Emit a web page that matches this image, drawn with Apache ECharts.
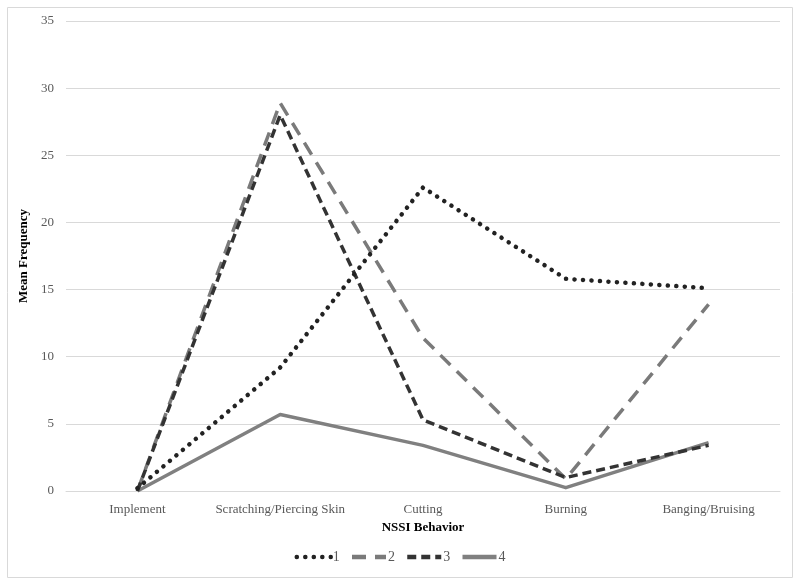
<!DOCTYPE html>
<html><head><meta charset="utf-8">
<script src="https://cdn.jsdelivr.net/npm/echarts@6/dist/echarts.min.js"></script>
<style>html,body{margin:0;padding:0;background:#fff}#c{width:800px;height:585px}</style>
</head><body><div id="c"></div>
<script>
const categories = ['Implement', 'Scratching/Piercing Skin', 'Cutting', 'Burning', 'Banging/Bruising'];
const series1 = [0.2, 9.2, 22.6, 15.8, 15.1];
const series2 = [0, 28.9, 11.4, 0.9, 13.9];
const series3 = [0, 28.0, 5.3, 1.0, 3.4];
const series4 = [0, 5.7, 3.4, 0.25, 3.6];
const seriesNames = ['1', '2', '3', '4'];
const yTicks = [0, 5, 10, 15, 20, 25, 30, 35];

const font = '"Liberation Serif", "Times New Roman", serif';
const chart = echarts.init(document.getElementById('c'), null, {renderer: 'canvas'});
function mk(name, data, color, type, width, cap) {
  return {
    name, type: 'line', data, symbol: 'none', z: 2,
    lineStyle: {color, width, type, cap: cap || 'butt', join: 'round'},
    itemStyle: {color}
  };
}
chart.setOption({
  animation: false,
  graphic: [{type: 'rect', shape: {x: 7.5, y: 7.5, width: 785, height: 570}, style: {fill: 'none', stroke: '#d9d9d9', lineWidth: 1}, silent: true}],
  grid: {left: 66, right: 20, top: 21, bottom: 94},
  legend: {
    bottom: 16, left: 'center', itemWidth: 34, itemHeight: 10, itemGap: 10,
    itemStyle: {color: 'rgba(0,0,0,0)', borderWidth: 0, opacity: 0},
    lineStyle: {width: 4.5},
    textStyle: {fontFamily: font, fontSize: 14, color: '#595959', padding: [0,0,0,-3]},
    data: seriesNames
  },
  xAxis: {
    type: 'category', data: categories, boundaryGap: true,
    name: 'NSSI Behavior', nameLocation: 'middle', nameGap: 26,
    nameTextStyle: {fontFamily: font, fontSize: 13, fontWeight: 'bold', color: '#000'},
    axisLine: {lineStyle: {color: '#d9d9d9', width: 1}},
    axisTick: {show: false},
    axisLabel: {fontFamily: font, fontSize: 13, color: '#595959', margin: 12, interval: 0}
  },
  yAxis: {
    type: 'value', min: yTicks[0], max: yTicks[yTicks.length - 1], interval: 5,
    name: 'Mean Frequency', nameLocation: 'middle', nameGap: 22, nameRotate: 90,
    nameTextStyle: {fontFamily: font, fontSize: 13, fontWeight: 'bold', color: '#000'},
    axisLine: {show: false}, axisTick: {show: false},
    axisLabel: {fontFamily: font, fontSize: 13, color: '#595959', margin: 12},
    splitLine: {lineStyle: {color: '#d9d9d9', width: 1}}
  },
  series: [
    mk(seriesNames[3], series4, '#808080', 'solid', 3.5),
    mk(seriesNames[1], series2, '#7a7a7a', [14, 9], 3.5),
    mk(seriesNames[2], series3, '#333333', [9, 5], 3.5),
    mk(seriesNames[0], series1, '#222222', [0.1, 8.4], 4.5, 'round')
  ]
});
</script></body></html>
